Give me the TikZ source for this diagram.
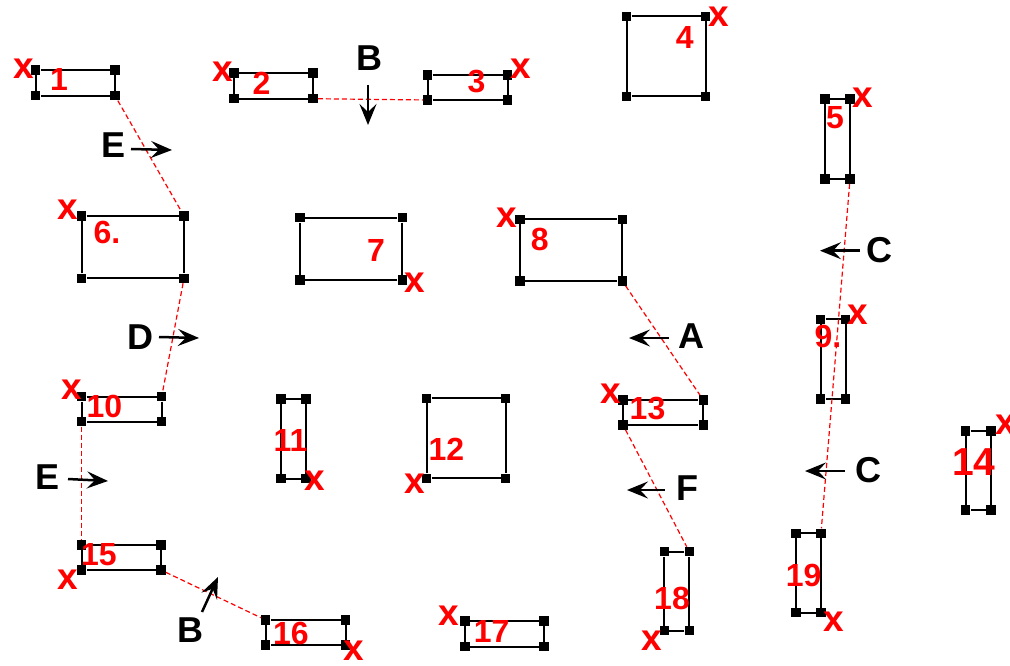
\documentclass[tikz,border=0pt]{standalone}
\usepackage{fontspec}
\setmainfont{Liberation Sans}
\usepackage{tikz}
\usetikzlibrary{arrows.meta, positioning}

\tikzset{
  corner/.style={fill=black, draw=none, minimum size=9.5pt, inner sep=0pt},
  box/.style={line width=2pt},
  link/.style={red, line width=1.2pt, dash pattern=on 5pt off 3pt},
  num/.style={text=red, font=\fontsize{32}{32}\selectfont\bfseries, inner sep=0pt},
  xmark/.style={text=red, font=\fontsize{37}{37}\selectfont\bfseries, inner sep=0pt},
  dirlabel/.style={font=\fontsize{36}{36}\selectfont\bfseries, inner sep=0pt},
  dirarrow/.style={line width=2.5pt, -{Stealth[length=21pt, width=17pt, inset=8pt]}},
}

\begin{document}
\begin{tikzpicture}[x=1pt, y=-1pt]
    \useasboundingbox (0,0) rectangle (1010,666);

    % the rectangles, corner squares first
    \foreach \n/\xl/\yt/\xr/\yb in {
        1/35.7/70/115/95.7, 2/234/73/313/98.7, 3/427.7/75/507.7/100,
        4/626.7/16.5/705.7/96.5, 5/825/99/850/179, 6/81.7/216/184/278.3,
        7/300/217.7/402.3/280, 8/520/219.3/622.3/281, 9/820.7/319.3/845.7/399,
        10/81.7/396.7/161.7/421.7, 11/281/399/306/478.7, 12/426.7/398.3/505.7/478.3,
        13/623/400/703.3/425, 14/965.7/431/991/510, 15/81.7/545/161/570,
        16/265.7/620/345.7/645, 17/465/621/544/646.7, 18/664.3/551.7/689.3/630.7,
        19/796/533.3/821/612.7} {
        \node[corner] (r\n-tl) at (\xl,\yt) {};
        \node[corner] (r\n-tr) at (\xr,\yt) {};
        \node[corner] (r\n-br) at (\xr,\yb) {};
        \node[corner] (r\n-bl) at (\xl,\yb) {};
        \draw[box] (r\n-tl) -- (r\n-tr) -- (r\n-br) -- (r\n-bl) -- (r\n-tl);
    }

    % dashed links
    \draw[link] (r1-br) -- (r6-tr);
    \draw[link] (r6-br) -- (r10-tr);
    \draw[link] (r10-bl) -- (r15-tl);
    \draw[link] (r15-br) -- (r16-tl);
    \draw[link] (r2-br) -- (r3-bl);
    \draw[link] (r8-br) -- (r13-tr);
    \draw[link] (r13-bl) -- (r18-tr);
    \draw[link] (r5-br) -- (r19-tr);

    % numbers
    \foreach \n/\t/\x/\y in {
        1/1/59/79, 2/2/261.5/83.5, 3/3/476.5/82, 4/4/684.7/37.5, 5/5/835/117.5,
        6/6./107/232, 7/7/376/250, 8/8/539.7/239.5, 9/9./828/336,
        10/10/104.3/406.7, 11/11/290.5/440, 12/12/446.3/449.7, 13/13/647.5/408.3,
        15/15/99/554.7, 16/16/290.8/633.3, 17/17/491.7/631.7, 18/18/672/598.3,
        19/19/803.7/575.8} {
        \node[num] (n\n) at (\x,\y) {\t};
    }
    \node[num, font=\fontsize{39}{39}\selectfont\bfseries] (n14) at (973.8,462.5) {14};

    % x marks
    \foreach \n/\x/\y in {
        1/23.7/68.3, 2/222.5/71.7, 3/520.5/68.3, 4/718.8/16.5, 5/862.8/97.3,
        6/68/210, 7/414.7/283, 8/506.3/218, 9/857.8/314.7, 10/71.3/389.7,
        11/315/481, 12/414.7/483.3, 13/610.3/393.3, 14/1006/425, 15/68/579.3,
        16/353.3/651, 17/448.8/615.5, 18/652.2/641.2, 19/833.7/621.7} {
        \node[xmark] (x\n) at (\x,\y) {x};
    }

    % direction arrows
    \foreach \n/\t/\lx/\ly/\sx/\sy/\ex/\ey in {
        e1/E/113.7/145.5/131/149/172/150, b1/B/369/58.3/368/85/368/125,
        d/D/140.3/337/159/337/199/338, a/A/691.2/335.8/669/338/629/338,
        c1/C/879/250/860/250.7/820/250.7, c2/C/868.3/469.7/845/471/805/471,
        e2/E/48/476.7/68/479/108/481, b2/B/190/630.3/202/612/218/577,
        f/F/687.5/487.8/665/490/627/490} {
        \node[dirlabel] (\n) at (\lx,\ly) {\t};
        \coordinate (\n-from) at (\sx,\sy);
        \coordinate (\n-to) at (\ex,\ey);
        \draw[dirarrow] (\n-from) -- (\n-to);
    }
\end{tikzpicture}
\end{document}
